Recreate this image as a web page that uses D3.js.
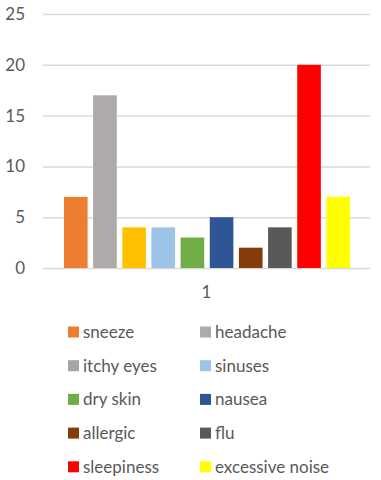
<!DOCTYPE html>
<html>
<head>
<meta charset="utf-8">
<script src="https://cdn.jsdelivr.net/npm/d3@7"></script>
<style>
  body { margin: 0; background: #fff; }
  text { font-family: Lato, "Open Sans", sans-serif; fill: #595959; }
</style>
</head>
<body>
<script>
var categories = ['1'];
var series = ['sneeze', 'headache', 'itchy eyes', 'sinuses', 'dry skin', 'nausea', 'allergic', 'flu', 'sleepiness', 'excessive noise'];
var values = [7, 17, 4, 4, 3, 5, 2, 4, 20, 7];
var yTicks = [0, 5, 10, 15, 20, 25];

// bar fills as seen in the picture, legend swatches differ for a couple of them
var barColors = ['#ed7d31', '#aeaaaa', '#ffc000', '#9dc3e6', '#70ad47', '#2f5597', '#843c0c', '#595959', '#ff0000', '#ffff00'];
var legendColors = ['#ed7d31', '#aeaaaa', '#a5a5a5', '#9dc3e6', '#70ad47', '#2f5597', '#843c0c', '#595959', '#ff0000', '#ffff00'];

var svg = d3.select('body').append('svg')
  .attr('width', 381)
  .attr('height', 480);

// note: "top" is taken by window.top, so use plot* names
var plotLeft = 43, plotRight = 370, plotTop = 14, plotBottom = 268;

var y = d3.scaleLinear().domain([0, 25]).range([plotBottom, plotTop]);

var x0 = d3.scaleBand().domain(categories).range([plotLeft, plotRight]);
var x1 = d3.scaleBand().domain(series)
  .range([x0('1') + 21, x0('1') + x0.bandwidth() - 20])
  .paddingInner(0.19);

// gridlines + y labels
var yAxis = svg.append('g')
  .attr('transform', 'translate(' + plotLeft + ',0)')
  .call(d3.axisLeft(y).tickValues(yTicks).tickSize(-(plotRight - plotLeft)).tickPadding(18));
yAxis.select('.domain').remove();
yAxis.selectAll('line').attr('stroke', '#d9d9d9').attr('stroke-width', 1.5);
yAxis.selectAll('text')
  .style('font-size', '17px')
  .attr('fill', '#595959');

// bars
svg.append('g').selectAll('rect')
  .data(values)
  .enter().append('rect')
  .attr('x', function(d, i) { return x1(series[i]); })
  .attr('y', function(d) { return y(d); })
  .attr('width', x1.bandwidth())
  .attr('height', function(d) { return y(0) - y(d); })
  .attr('fill', function(d, i) { return barColors[i]; });

// category label
svg.append('text')
  .attr('x', x0('1') + x0.bandwidth() / 2)
  .attr('y', 298)
  .attr('text-anchor', 'middle')
  .style('font-size', '17px')
  .text(categories[0]);

// legend, two columns
var legend = svg.append('g').selectAll('g')
  .data(series)
  .enter().append('g')
  .attr('transform', function(d, i) {
    var col = i % 2, row = Math.floor(i / 2);
    return 'translate(' + (68 + col * 132) + ',' + (332 + row * 33.7) + ')';
  });

legend.append('rect')
  .attr('x', 0)
  .attr('y', -5.5)
  .attr('width', 11)
  .attr('height', 11)
  .attr('fill', function(d, i) { return legendColors[i]; });

legend.append('text')
  .attr('x', 15)
  .attr('y', 6)
  .style('font-size', '17px')
  .text(function(d) { return d; });
</script>
</body>
</html>
